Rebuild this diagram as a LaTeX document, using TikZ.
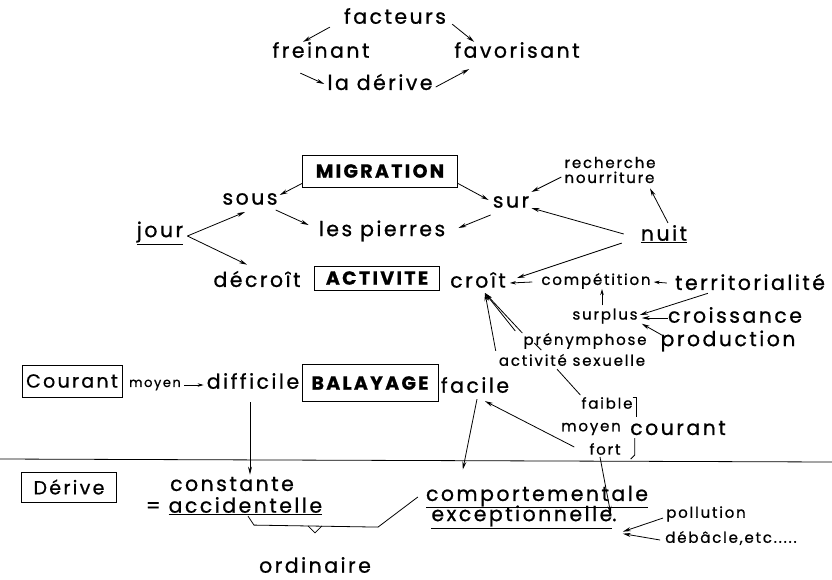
\documentclass[tikz,border=0pt]{standalone}
\usepackage{fontspec}
\setmainfont{Poppins}[LetterSpace=12,FakeBold=0.8]
\usetikzlibrary{arrows.meta}
\tikzset{
  drift word/.style={font=\fontsize{20.5}{22}\selectfont,inner sep=0pt},
  drift small/.style={font=\fontsize{15}{15}\selectfont,inner sep=0pt},
  drift tiny/.style={font=\fontsize{13}{14}\selectfont,inner sep=0pt},
  drift box/.style={draw,line width=.9pt,inner sep=0pt,font=\fontsize{19}{21}\selectfont\bfseries},
  drift frame/.style={draw,line width=.9pt,inner sep=0pt,font=\fontsize{19}{21}\selectfont},
  drift line/.style={line width=.8pt},
  drift arrow/.style={line width=.8pt,-{Stealth[length=8pt,width=4pt]}},
  drift short/.style={line width=.8pt,-{Stealth[length=6pt,width=3.5pt]}}
}
\begin{document}
\begin{tikzpicture}[x=1pt,y=-1pt]
  \useasboundingbox (0,0) rectangle (832,579);
  \node[drift word] (facteurs) at (395,16) {facteurs};
  \node[drift word] (freinant) at (321,50) {freinant};
  \node[drift word] (favorisant) at (517,50) {favorisant};
  \node[drift word] (laderive) at (380,82) {la dérive};
  \draw[drift arrow] ([shift={(-14,3)}]facteurs.south west) -- ([shift={(-18,0)}]freinant.north);
  \draw[drift arrow] ([shift={(6,0)}]facteurs.south east) -- ([shift={(20,0)}]favorisant.north west);
  \draw[drift arrow] ([shift={(28,15)}]freinant.south west) -- ([shift={(-3,2)}]laderive.west);
  \draw[drift arrow] ([shift={(3,5)}]laderive.east) -- ([shift={(15,11)}]favorisant.south west);

  \node[drift box,minimum width=155pt,minimum height=32pt] (migration) at (380,171) {MIGRATION};
  \node[drift word] (sous) at (250,199) {sous};
  \node[drift word] (sur) at (511,202) {sur};
  \node[drift word] (pierres) at (382,231) {les pierres};
  \node[drift word] (jour) at (160,233) {\underline{jour}};
  \node[drift small,align=left] (recherche) at (610,170) {recherche\\nourriture};
  \node[drift word] (nuit) at (664,234) {\underline{nuit}};
  \node[drift word] (decroit) at (257,279) {décroît};
  \node[drift box,minimum width=125pt,minimum height=24pt] (activite) at (377,278) {ACTIVITE};
  \node[drift word] (croit) at (478,280) {croît};
  \node[drift small] (competition) at (596,281) {compétition};
  \node[drift word] (territorialite) at (750,282) {territorialité};
  \node[drift small] (surplus) at (605,316) {surplus};
  \node[drift word] (croissance) at (735,315) {croissance};
  \node[drift word] (production) at (728,341) {production};
  \node[drift small] (prenymphose) at (585,341) {prénymphose};
  \node[drift small] (sexuelle) at (572,360) {activité sexuelle};
  \draw[drift arrow] ([shift={(0,-4)}]migration.south west) -- ([shift={(2,2)}]sous.north east);
  \draw[drift arrow] ([shift={(0,-4)}]migration.south east) -- ([shift={(-4,-2)}]sur.west);
  \draw[drift arrow] ([shift={(-2,5)}]sous.south east) -- ([shift={(-10,-6)}]pierres.west);
  \draw[drift arrow] ([shift={(-2,7)}]sur.south west) -- ([shift={(13,-3)}]pierres.east);
  \draw[drift arrow] ([shift={(4,3)}]jour.east) -- ([shift={(-5,7)}]sous.south);
  \draw[drift arrow] ([shift={(4,3)}]jour.east) -- ([shift={(-10,-6)}]decroit.north);
  \draw[drift arrow] ([shift={(-3,7)}]recherche.west) -- ([shift={(2,-4)}]sur.north east);
  \draw[drift arrow] ([shift={(4,-2)}]nuit.north) -- ([shift={(40,5)}]recherche.south);
  \draw[drift arrow] ([shift={(-17,0)}]nuit.west) -- ([shift={(2,0)}]sur.south east);
  \draw[drift arrow] ([shift={(-19,0)}]nuit.south west) -- ([shift={(11,-2)}]croit.east);
  \draw[drift short] ([shift={(-9,1)}]competition.west) -- ([shift={(4,3)}]croit.east);
  \draw[drift short] ([shift={(-8,1)}]territorialite.west) -- ([shift={(3,1)}]competition.east);
  \draw[drift short] ([shift={(-3,-3)}]surplus.north) -- ([shift={(6,0)}]competition.south);
  \draw[drift arrow] ([shift={(33,3)}]territorialite.south west) -- ([shift={(2,-1)}]surplus.east);
  \draw[drift arrow] ([shift={(0,3)}]croissance.west) -- ([shift={(4,2)}]surplus.east);
  \draw[drift arrow] ([shift={(2,5)}]production.north west) -- ([shift={(4,0)}]surplus.south east);
  \draw[drift arrow] ([shift={(-3,-3)}]sexuelle.north west) -- ([shift={(7,5)}]croit.south);
  \draw[drift arrow] ([shift={(-8,-2)}]prenymphose.north west) -- ([shift={(7,5)}]croit.south);
  \draw[drift arrow] ([shift={(-1,0)}]prenymphose.north west) -- ([shift={(7,5)}]croit.south);
  \draw[drift line] ([shift={(11,-6)}]prenymphose.south west) -- ++(7,7);

  \node[drift frame,minimum width=100pt,minimum height=32pt] (courantbox) at (72,381) {Courant};
  \node[drift tiny] (moyen) at (155,385) {moyen};
  \node[drift word] (difficile) at (253,381) {difficile};
  \node[drift box,minimum width=136pt,minimum height=37pt] (balayage) at (370,383) {BALAYAGE};
  \node[drift word] (facile) at (475,385) {facile};
  \node[drift small] (faible) at (607,403) {faible};
  \node[drift small] (moyenc) at (591,429) {moyen};
  \node[drift word] (courant) at (678,428) {courant};
  \node[drift small] (fort) at (605,449) {fort};
  \draw[drift short] ([shift={(3,0)}]moyen.east) -- ([shift={(-3,4)}]difficile.west);
  \draw[drift line] ([shift={(-15,3)}]sexuelle.south) -- ([shift={(-1,-2)}]faible.north west);
  \draw[drift arrow] ([shift={(-15,-2)}]fort.west) -- ([shift={(10,8)}]facile.south);
  \draw[drift line] (faible.north east) -- ++(4,0) -- ++(0,20);
  \draw[drift line] ([shift={(14,-11)}]fort.east) -- ++(0,17) -- ++(-4,4);

  \draw[drift line] (0,459) -- (832,462);

  \node[drift frame,minimum width=95pt,minimum height=30pt] (derive) at (69,487) {Dérive};
  \node[drift word] (constante) at (232,484) {constante};
  \node[drift word] (accidentelle) at (234,506) {= \underline{accidentelle}};
  \node[drift word] (ordinaire) at (315,565) {ordinaire};
  \node[drift word] (comport) at (537,497) {\underline{comportementale}};
  \node[drift word] (exception) at (524,517) {\underline{exceptionnelle}.};
  \node[drift small] (pollution) at (706,514) {pollution};
  \node[drift small] (debacle) at (731,538) {débâcle,etc.....};
  \draw[drift arrow] ([shift={(-3,13)}]difficile.south) -- ([shift={(18,-2)}]constante.north);
  \draw[drift arrow] ([shift={(2,6)}]facile.south) -- ([shift={(37,-16)}]comport.north west);
  \draw[drift arrow] ([shift={(-5,2)}]fort.south) -- ([shift={(-6,-3)}]exception.east);
  \draw[drift arrow] ([shift={(-3,4)}]pollution.west) -- ([shift={(6,3)}]exception.south east);
  \draw[drift arrow] ([shift={(-5,2)}]debacle.west) -- ([shift={(6,5)}]exception.south east);
  \draw[drift line] ([shift={(14,1)}]accidentelle.south) -- ++(6,9) -- ++(124,2) -- ([shift={(-8,0)}]comport.west);
  \draw[drift line] ([shift={(-7,-31)}]ordinaire.north) -- ++(7,7) -- ++(7,-7);
\end{tikzpicture}
\end{document}
